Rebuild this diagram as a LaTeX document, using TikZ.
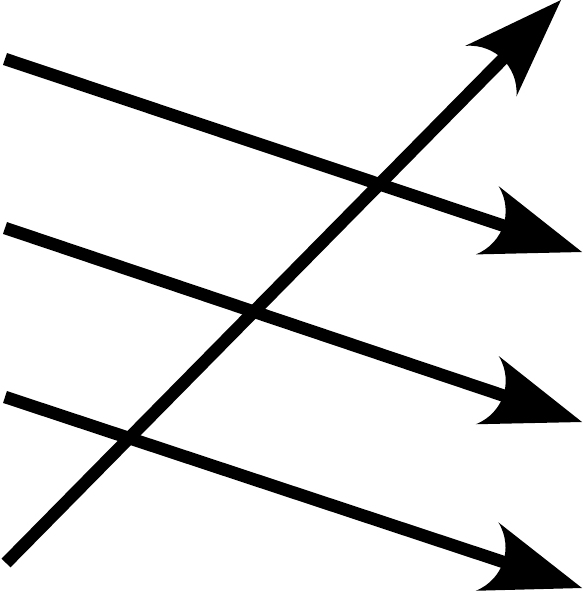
\documentclass[tikz,border=0pt]{standalone}
\usetikzlibrary{arrows.meta}
\pgfdeclarearrow{
  name = CurvedStealth,
  parameters = {},
  setup code = {
    \pgfarrowssettipend{0pt}
    \pgfarrowssetlineend{-78pt}
    \pgfarrowssetbackend{-100pt}
    \pgfarrowshullpoint{0pt}{0pt}
    \pgfarrowsupperhullpoint{-100pt}{36pt}
  },
  drawing code = {
    \pgfpathmoveto{\pgfpoint{0pt}{0pt}}
    \pgfpathlineto{\pgfpoint{-100pt}{36pt}}
    \pgfpathcurveto{\pgfpoint{-88pt}{26pt}}{\pgfpoint{-83pt}{12pt}}{\pgfpoint{-83pt}{0pt}}
    \pgfpathcurveto{\pgfpoint{-83pt}{-12pt}}{\pgfpoint{-88pt}{-26pt}}{\pgfpoint{-100pt}{-36pt}}
    \pgfpathclose
    \pgfusepathqfill
  }
}
\tikzset{
  bigarrow/.style={draw=black, line width=12.5pt, line cap=butt, -{CurvedStealth}}
}
\begin{document}
\begin{tikzpicture}[x=1pt, y=-1pt]
\useasboundingbox (0,0) rectangle (582,593);
\coordinate (s1) at (5,59);
\coordinate (e1) at (582,252);
\coordinate (s2) at (5,228);
\coordinate (e2) at (582,422);
\coordinate (s3) at (5,397);
\coordinate (e3) at (582,588);
\coordinate (sd) at (6,563);
\coordinate (ed) at (561,0);
\draw[bigarrow] (s1) -- (e1);
\draw[bigarrow] (s2) -- (e2);
\draw[bigarrow] (s3) -- (e3);
\draw[bigarrow] (sd) -- (ed);
\end{tikzpicture}
\end{document}
